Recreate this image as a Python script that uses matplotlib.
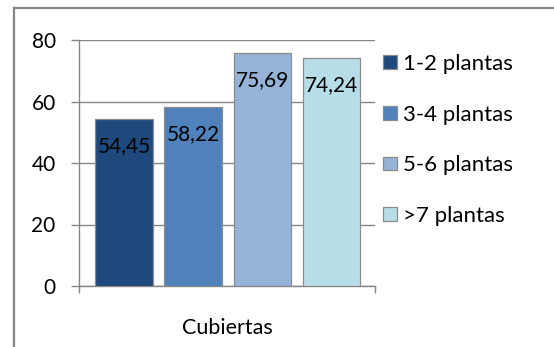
import matplotlib
matplotlib.use('Agg')
import matplotlib.pyplot as plt
from matplotlib.lines import Line2D

# datos del gráfico
categoria = "Cubiertas"
series = ["1-2 plantas", "3-4 plantas", "5-6 plantas", ">7 plantas"]
valores = [54.45, 58.22, 75.69, 74.24]
colores = ["#1F497D", "#4F81BD", "#95B3D7", "#B7DEE8"]
yticks = [0, 20, 40, 60, 80]

W, H = 554, 347
plt.rcParams['font.family'] = ['Lato', 'DejaVu Sans']
GRIS = "#868686"

fig = plt.figure(figsize=(W / 100, H / 100), dpi=100)

# marco exterior (solo se ven el borde superior e izquierdo)
fig.add_artist(Line2D([14 / W, 14 / W], [0, 1 - 8 / H], transform=fig.transFigure,
                      color=GRIS, lw=1.6))
fig.add_artist(Line2D([14 / W, 1], [1 - 8 / H, 1 - 8 / H], transform=fig.transFigure,
                      color=GRIS, lw=1.6))

ax = fig.add_axes([79 / W, 61 / H, 296 / W, 246 / H])

x = list(range(len(valores)))
barras = ax.bar(x, valores, width=0.835, color=colores, edgecolor="#8c8c8c", linewidth=0.9,
                label=series, zorder=3)

# etiquetas de valor dentro de la barra
for b, v in zip(barras, valores):
    ax.annotate(f"{v:.2f}".replace(".", ","),
                xy=(b.get_x() + b.get_width() / 2, b.get_height()),
                xytext=(0, -19.5), textcoords="offset points",
                ha="center", va="center", fontsize=15, color="black", zorder=4)

xmin, xmax = -0.655, 3.63
ax.set_xlim(xmin, xmax)
ax.set_ylim(0, 80)
ax.set_yticks(yticks)
ax.set_yticklabels([str(t) for t in yticks], fontsize=15)
ax.yaxis.grid(True, color=GRIS, linewidth=1.0, zorder=0)
ax.tick_params(axis="y", length=5.8, width=1.0, color=GRIS, pad=11)

ax.set_xticks([xmin, xmax])
ax.set_xticklabels(["", ""])
ax.tick_params(axis="x", which="major", length=5.2, width=1.0, color=GRIS)
ax.set_xticks([(xmin + xmax) / 2], minor=True)
ax.set_xticklabels([categoria], minor=True, fontsize=15.5)
ax.tick_params(axis="x", which="minor", length=0, pad=23)

for lado in ["top", "right"]:
    ax.spines[lado].set_visible(False)
for lado in ["left", "bottom"]:
    ax.spines[lado].set_color(GRIS)
    ax.spines[lado].set_linewidth(1.0)

leg = ax.legend(loc="upper left", bbox_to_anchor=(383 / W, 1 - 54 / H),
                bbox_transform=fig.transFigure, frameon=False, fontsize=16,
                handlelength=0.63, handleheight=0.585, handletextpad=0.28,
                labelspacing=1.38, borderpad=0, borderaxespad=0)

fig.savefig("out.png", dpi=100)
